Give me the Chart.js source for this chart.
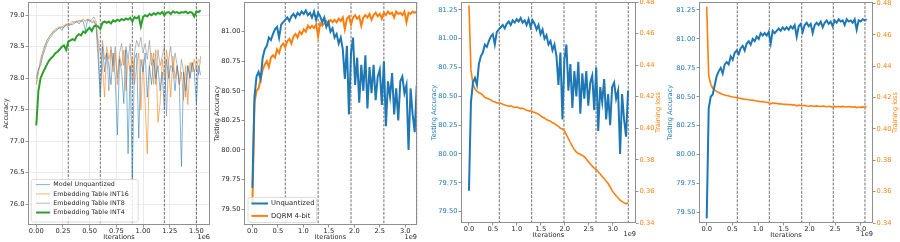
<!DOCTYPE html>
<html>
<head>
<meta charset="utf-8">
<title>Accuracy and training loss curves</title>
<script src="https://cdn.jsdelivr.net/npm/chart.js@4.4.1/dist/chart.umd.min.js"></script>
<style>
  html, body { margin: 0; padding: 0; background: #fff; }
  #figure { position: relative; width: 900px; height: 242px; overflow: hidden; }
  #figure canvas { position: absolute; top: 0; }
</style>
</head>
<body>
<div id="figure">
  <canvas id="p1" width="214" height="242" style="left:0px"></canvas>
  <canvas id="p2" width="208" height="242" style="left:212px"></canvas>
  <canvas id="p3" width="239" height="242" style="left:427px"></canvas>
  <canvas id="p4" width="234" height="242" style="left:666px"></canvas>
</div>
<script>
// ---- panel 1: embedding table quantization (iterations in 1e6) ----
const p1LastIter = 1.54e6;
const p1Labels = ['Model Unquantized', 'Embedding Table INT16', 'Embedding Table INT8', 'Embedding Table INT4'];
const p1Unquantized = [78.0, 78.15, 78.2, 78.35, 78.45, 78.55, 78.62, 78.66, 78.72, 78.74,
  78.78, 78.8, 78.76, 78.82, 78.84, 78.82, 78.86, 78.85, 78.88, 78.9,
  78.86, 78.91, 78.9, 78.75, 78.92, 78.92, 78.88, 78.9, 78.82, 78.3,
  77.7, 78.5, 78.1, 78.4, 78.2, 77.9, 78.4, 78.0, 77.1, 78.3,
  78.1, 77.6, 78.45, 76.8, 78.2, 76.4, 78.3, 78.4, 77.05, 78.3,
  78.1, 78.4, 77.7, 78.2, 77.9, 78.3, 78.0, 78.2, 77.8, 78.1,
  77.5, 78.3, 78.0, 78.2, 78.15, 77.8, 78.2, 77.9, 76.6, 78.1,
  77.8, 78.2, 78.0, 78.25, 78.1, 77.6, 78.2, 78.05];
const p1Int16 = [77.9, 78.1, 78.25, 78.4, 78.5, 78.6, 78.66, 78.7, 78.75, 78.78,
  78.8, 78.82, 78.8, 78.84, 78.86, 78.85, 78.88, 78.9, 78.88, 78.91,
  78.9, 78.92, 78.93, 78.9, 78.94, 78.93, 78.9, 78.92, 78.85, 78.6,
  78.4, 78.2, 77.7, 78.5, 78.3, 78.45, 78.1, 78.4, 77.9, 78.35,
  78.2, 78.45, 77.8, 78.3, 78.1, 78.35, 77.9, 78.2, 78.4, 77.5,
  78.3, 77.6, 76.8, 78.2, 78.4, 77.9, 78.45, 77.3, 77.6, 78.3,
  78.0, 78.45, 78.2, 77.7, 78.35, 78.0, 78.2, 77.9, 78.1, 77.65,
  78.2, 77.58, 78.25, 78.1, 78.3, 78.15, 78.3, 78.25];
const p1Int8 = [77.9, 78.1, 78.3, 78.42, 78.52, 78.6, 78.65, 78.7, 78.74, 78.76,
  78.78, 78.8, 78.82, 78.8, 78.85, 78.86, 78.84, 78.88, 78.9, 78.89,
  78.92, 78.9, 78.93, 78.91, 78.94, 78.9, 78.93, 78.97, 78.9, 78.5,
  77.7, 78.6, 78.3, 78.4, 77.8, 78.5, 78.2, 78.5, 78.0, 78.4,
  78.55, 78.2, 78.5, 78.3, 78.55, 77.9, 78.4, 78.6, 78.5, 78.65,
  78.4, 78.55, 78.3, 78.6, 78.2, 78.4, 77.9, 78.45, 78.2, 78.35,
  78.5, 77.4, 78.3, 78.5, 78.1, 78.4, 78.2, 77.9, 78.3, 78.1,
  77.7, 78.2, 78.0, 78.25, 78.1, 78.2, 78.05, 78.35];
const p1Int4 = [77.25, 77.8, 78.0, 78.08, 78.15, 78.22, 78.28, 78.32, 78.35, 78.4,
  78.42, 78.46, 78.5, 78.52, 78.45, 78.58, 78.6, 78.62, 78.6, 78.67,
  78.7, 78.68, 78.74, 78.72, 78.77, 78.8, 78.75, 78.82, 78.84, 78.82,
  78.78, 78.88, 78.9, 78.88, 78.9, 78.87, 78.92, 78.9, 78.93, 78.91,
  78.94, 78.92, 78.95, 78.93, 78.96, 78.9, 78.97, 78.95, 78.98, 78.82,
  78.97, 79.0, 78.98, 79.02, 79.0, 79.03, 79.01, 79.04, 79.02, 79.05,
  79.0, 79.04, 79.05, 79.02, 79.06, 79.04, 79.05, 79.03, 79.05, 79.04,
  79.06, 79.03, 79.05, 79.04, 78.98, 79.06, 79.05, 79.08];
const p1Epochs = [0.3e6, 0.6e6, 0.9e6, 1.2e6, 1.5e6];
const p1XTicks = [0, 0.25e6, 0.5e6, 0.75e6, 1.0e6, 1.25e6, 1.5e6];
const p1YTicks = [76.0, 76.5, 77.0, 77.5, 78.0, 78.5, 79.0];

// ---- panels 2-4: testing accuracy / training loss (iterations in 1e9) ----
const unquantizedAcc = [79.68, 80.45, 80.62, 80.66, 80.6, 80.78, 80.85, 80.88, 80.95, 80.93,
  80.98, 81.02, 81.04, 80.95, 81.06, 81.08, 81.1, 81.12, 81.09, 81.13,
  81.15, 81.12, 81.16, 81.14, 81.17, 81.15, 81.18, 81.14, 81.16, 81.12,
  81.17, 81.1, 81.16, 81.13, 81.08, 81.12, 81.04, 81.08, 81.0, 81.03,
  80.95, 80.98, 80.9, 80.95, 80.85, 80.6, 80.88, 80.3, 80.82, 80.95,
  80.55, 80.78, 80.4, 80.72, 80.5, 80.8, 80.35, 80.7, 80.48, 80.72,
  80.42, 80.62, 80.68, 80.38, 80.75, 80.2, 80.58, 80.45, 80.65, 80.3,
  80.52, 80.25, 80.58, 80.62, 80.48, 80.55, 80.0, 80.52, 80.3, 80.15,
  80.55];
const dqrmAcc = [79.55, 80.4, 80.5, 80.52, 80.6, 80.68, 80.72, 80.75, 80.7, 80.78,
  80.8, 80.78, 80.85, 80.82, 80.88, 80.9, 80.87, 80.92, 80.94, 80.9,
  80.96, 80.98, 80.95, 81.0, 80.98, 81.02, 81.0, 81.05, 81.03, 81.05,
  81.03, 81.06, 80.96, 81.07, 81.05, 81.07, 81.09, 81.07, 81.1, 81.08,
  81.1, 81.08, 81.11, 81.09, 81.12, 81.02, 81.11, 81.13, 81.06, 81.12,
  81.14, 81.11, 81.13, 81.05, 81.12, 81.14, 81.12, 81.15, 81.1, 81.14,
  81.16, 81.13, 81.15, 81.11, 81.16, 81.14, 81.17, 81.15, 81.16, 81.12,
  81.17, 81.15, 81.16, 81.14, 81.17, 81.08, 81.16, 81.15, 81.17, 81.16,
  81.17];
const dqrmAccRun2 = [79.45].concat(dqrmAcc.slice(1));
const unquantizedLoss = [0.478, 0.437, 0.428, 0.425, 0.4235, 0.4225, 0.422, 0.421, 0.4195, 0.419,
  0.4185, 0.418, 0.417, 0.4168, 0.416, 0.4162, 0.4158, 0.4152, 0.4148, 0.4145,
  0.414, 0.4142, 0.4136, 0.4132, 0.4135, 0.413, 0.4125, 0.4128, 0.412, 0.4115,
  0.411, 0.4112, 0.4105, 0.41, 0.4095, 0.409, 0.408, 0.407, 0.4065, 0.4055,
  0.405, 0.4045, 0.4035, 0.403, 0.402, 0.4012, 0.4, 0.3995, 0.3985, 0.396,
  0.3935, 0.391, 0.3885, 0.3865, 0.385, 0.384, 0.3835, 0.3828, 0.382, 0.3805,
  0.379, 0.3775, 0.376, 0.3748, 0.3738, 0.3725, 0.371, 0.3695, 0.368, 0.3665,
  0.365, 0.3628, 0.3605, 0.3588, 0.3572, 0.3558, 0.3545, 0.3535, 0.3528, 0.3522,
  0.3528];
const dqrmLoss = [0.478, 0.434, 0.4285, 0.426, 0.4248, 0.424, 0.4232, 0.4226, 0.422, 0.4216,
  0.4213, 0.421, 0.4207, 0.4204, 0.4202, 0.42, 0.4197, 0.4195, 0.4192, 0.419,
  0.4188, 0.4186, 0.4183, 0.4185, 0.418, 0.4178, 0.4176, 0.4174, 0.4176, 0.4172,
  0.417, 0.4168, 0.416, 0.4167, 0.4163, 0.4164, 0.416, 0.4161, 0.4158, 0.4157,
  0.4158, 0.4155, 0.4156, 0.4152, 0.4154, 0.4147, 0.4152, 0.415, 0.4148, 0.4151,
  0.4147, 0.4145, 0.4148, 0.4146, 0.4144, 0.4147, 0.4145, 0.4143, 0.4146, 0.4144,
  0.4142, 0.4145, 0.4143, 0.4137, 0.4144, 0.4142, 0.4143, 0.4141, 0.4144, 0.4142,
  0.414, 0.4143, 0.4141, 0.4139, 0.4142, 0.4136, 0.414, 0.4138, 0.4141, 0.4139,
  0.4143];
const p2LastIter = 3.225e9, p3LastIter = 3.32e9, p4LastIter = 3.113e9;
const p2Epochs = [0.645e9, 1.29e9, 1.935e9, 2.58e9, 3.225e9];
const p3Epochs = [0.633e9, 1.309e9, 1.983e9, 2.651e9, 3.325e9];
const p4Epochs = [0.595e9, 1.218e9, 1.849e9, 2.463e9, 3.08e9];
const iterTicks = [0, 0.5e9, 1.0e9, 1.5e9, 2.0e9, 2.5e9, 3.0e9];
const accTicksP2 = [79.5, 79.75, 80.0, 80.25, 80.5, 80.75, 81.0];
const accTicks = [79.5, 79.75, 80.0, 80.25, 80.5, 80.75, 81.0, 81.25];
const lossTicks = [0.34, 0.36, 0.38, 0.40, 0.42, 0.44, 0.46, 0.48];

// ---- helpers ----
const BLUE = '#1f77b4', ORANGE = '#ff7f0e', GREEN = '#2ca02c', TEXT = '#262626';
const FONT = '"DejaVu Sans", sans-serif';
Chart.defaults.font.family = FONT;

// evaluations are evenly spaced between 0 and the last iteration
function series(values, lastIter) {
  return values.map((v, i) => ({ x: i * lastIter / (values.length - 1), y: v }));
}

function vText(ctx, text, x, y, color) {
  ctx.save();
  ctx.translate(x, y);
  ctx.rotate(-Math.PI / 2);
  ctx.fillStyle = color;
  ctx.textAlign = 'center';
  ctx.textBaseline = 'middle';
  ctx.fillText(text, 0, 0);
  ctx.restore();
}

function drawLegend(ctx, chart, L) {
  const a = chart.chartArea;
  const bx = a.left + L.dx, by = a.bottom - L.dy - L.h;
  ctx.save();
  ctx.beginPath();
  ctx.roundRect(bx + 0.5, by + 0.5, L.w, L.h, 2);
  ctx.globalAlpha = 0.8;
  ctx.fillStyle = '#fff';
  ctx.fill();
  ctx.globalAlpha = 1;
  ctx.strokeStyle = '#d4d4d4';
  ctx.lineWidth = 0.8;
  ctx.stroke();
  ctx.font = L.font + 'px ' + FONT;
  ctx.letterSpacing = '0.05px';   // keeps the glyphs from being fused at this tiny size
  ctx.textAlign = 'left';
  ctx.textBaseline = 'middle';
  chart.data.datasets.forEach((ds, i) => {
    const y = by + L.first + i * L.gap;
    ctx.strokeStyle = ds.borderColor;
    ctx.lineWidth = ds.borderWidth;
    ctx.beginPath();
    ctx.moveTo(bx + L.line[0], y);
    ctx.lineTo(bx + L.line[1], y);
    ctx.stroke();
    ctx.fillStyle = TEXT;
    ctx.fillText(ds.label, bx + L.textX, y);
  });
  ctx.restore();
}

// epoch markers, frame, axis titles, offset text and legend
const decor = {
  id: 'decor',
  beforeDatasetsDraw(chart, args, o) {
    const { ctx, chartArea: a } = chart;
    const x = chart.scales.x;
    ctx.save();
    ctx.strokeStyle = 'rgba(40,40,40,0.75)';
    ctx.lineWidth = 0.9;
    ctx.setLineDash([2.8, 1.4]);
    o.vlines.forEach(v => {
      const px = x.getPixelForValue(v);
      ctx.beginPath();
      ctx.moveTo(px, a.top);
      ctx.lineTo(px, a.bottom);
      ctx.stroke();
    });
    ctx.restore();
  },
  afterDatasetsDraw(chart, args, o) {
    const { ctx, chartArea: a } = chart;
    ctx.save();
    ctx.strokeStyle = '#8f8f8f';
    ctx.lineWidth = 1;
    ctx.strokeRect(Math.round(a.left) + 0.5, Math.round(a.top) + 0.5,
      Math.round(a.right - a.left) - 1, Math.round(a.bottom - a.top) - 1);
    ctx.font = '6.6px ' + FONT;
    ctx.fillStyle = TEXT;
    ctx.textBaseline = 'middle';
    ctx.textAlign = 'center';
    ctx.fillText('Iterations', (a.left + a.right) / 2, a.bottom + o.xTitleGap);
    ctx.textAlign = 'right';
    ctx.fillText(o.offset, a.right, a.bottom + o.xTitleGap - 0.6);
    const midY = (a.top + a.bottom) / 2;
    vText(ctx, o.left.text, a.left - o.left.gap, midY, o.left.color);
    if (o.right) vText(ctx, o.right.text, a.right + o.right.gap, midY, o.right.color);
    ctx.restore();
    if (o.legend) drawLegend(ctx, chart, o.legend);
  }
};

function xAxis(min, max, tickValues, unit, digits, grid, height) {
  return {
    type: 'linear', min, max,
    afterBuildTicks: s => { s.ticks = tickValues.map(v => ({ value: v })); },
    afterFit: s => { s.height = height; s.paddingLeft = 0; s.paddingRight = 0; },
    ticks: {
      autoSkip: false, maxRotation: 0, padding: 0, color: TEXT, font: { size: 6.7 },
      callback: v => (v / unit).toFixed(digits)
    },
    grid: { drawOnChartArea: grid, color: '#e4e4e4', lineWidth: 0.8, tickLength: 2.5, tickColor: '#777' },
    border: { display: false }
  };
}

function yAxis(position, min, max, tickValues, digits, color, grid, width) {
  return {
    type: 'linear', position, min, max,
    afterBuildTicks: s => { s.ticks = tickValues.map(v => ({ value: v })); },
    afterFit: s => { s.width = width; s.paddingTop = 0; s.paddingBottom = 0; },
    ticks: {
      autoSkip: false, padding: 1, color, font: { size: 6.7 },
      callback: v => v.toFixed(digits)
    },
    grid: { drawOnChartArea: grid, color: '#e4e4e4', lineWidth: 0.8, tickLength: 2.5, tickColor: '#777' },
    border: { display: false }
  };
}

function line(label, values, lastIter, color, width, axis) {
  return {
    label, data: series(values, lastIter), yAxisID: axis || 'y',
    borderColor: color, borderWidth: width, pointRadius: 0, tension: 0, fill: false
  };
}

const baseOptions = (padRight) => ({
  responsive: false, animation: false, devicePixelRatio: 1,
  layout: { padding: { top: 2, right: padRight, left: 0, bottom: 0 } },
  plugins: { legend: { display: false }, tooltip: { enabled: false } }
});

// ---- panel 1 ----
const o1 = baseOptions(4);
o1.scales = {
  x: xAxis(-0.0775e6, 1.6275e6, p1XTicks, 1e6, 2, true, 17),
  y: yAxis('left', 75.67, 79.21, p1YTicks, 1, TEXT, true, 28)
};
o1.plugins.decor = {
  vlines: p1Epochs, xTitleGap: 12.5, offset: '1e6',
  left: { text: 'Accuracy', gap: 22, color: TEXT },
  legend: { dx: 2.7, dy: 3.5, w: 107, h: 42.5, first: 5.6, gap: 9.3, line: [5.3, 19.3], textX: 22.6, font: 6.3 }
};
new Chart(document.getElementById('p1'), {
  type: 'line',
  data: { datasets: [
    line(p1Labels[0], p1Unquantized, p1LastIter, 'rgba(31,119,180,0.55)', 1),
    line(p1Labels[1], p1Int16, p1LastIter, 'rgba(255,127,14,0.6)', 1),
    line(p1Labels[2], p1Int8, p1LastIter, 'rgba(127,127,127,0.55)', 1),
    line(p1Labels[3], p1Int4, p1LastIter, GREEN, 2)
  ] },
  options: o1,
  plugins: [decor]
});

// ---- panel 2 ----
const o2 = baseOptions(3);
o2.scales = {
  x: xAxis(-0.165e9, 3.23e9, iterTicks, 1e9, 1, false, 17),
  y: yAxis('left', 79.365, 81.251, accTicksP2, 2, TEXT, false, 32)
};
o2.plugins.decor = {
  vlines: p2Epochs, xTitleGap: 12.5, offset: '1e9',
  left: { text: 'Testing Accuracy', gap: 27, color: TEXT },
  legend: { dx: 3.5, dy: 3, w: 68.5, h: 25, first: 6.5, gap: 12.4, line: [4, 20.5], textX: 23.5, font: 6.8 }
};
new Chart(document.getElementById('p2'), {
  type: 'line',
  data: { datasets: [
    line('Unquantized', unquantizedAcc, p2LastIter, BLUE, 2),
    line('DQRM 4-bit', dqrmAcc, p2LastIter, ORANGE, 2)
  ] },
  options: o2,
  plugins: [decor]
});

// ---- panel 3 ----
const o3 = baseOptions(0);
o3.scales = {
  x: xAxis(-0.166e9, 3.486e9, iterTicks, 1e9, 1, false, 19),
  y: yAxis('left', 79.401, 81.319, accTicks, 2, BLUE, false, 34),
  y2: yAxis('right', 0.34, 0.48, lossTicks, 2, ORANGE, false, 30)
};
o3.plugins.decor = {
  vlines: p3Epochs, xTitleGap: 12.3, offset: '1e9',
  left: { text: 'Testing Accuracy', gap: 27, color: BLUE },
  right: { text: 'Training loss', gap: 22.7, color: ORANGE }
};
new Chart(document.getElementById('p3'), {
  type: 'line',
  data: { datasets: [
    line('Testing Accuracy', unquantizedAcc, p3LastIter, BLUE, 2),
    line('Training loss', unquantizedLoss, p3LastIter, ORANGE, 1.6, 'y2')
  ] },
  options: o3,
  plugins: [decor]
});

// ---- panel 4 ----
const o4 = baseOptions(0);
o4.scales = {
  x: xAxis(-0.15e9, 3.236e9, iterTicks, 1e9, 1, false, 19),
  y: yAxis('left', 79.41, 81.319, accTicks, 2, BLUE, false, 33),
  y2: yAxis('right', 0.34, 0.481, lossTicks, 2, ORANGE, false, 27)
};
o4.plugins.decor = {
  vlines: p4Epochs, xTitleGap: 12.3, offset: '1e9',
  left: { text: 'Testing Accuracy', gap: 28.3, color: BLUE },
  right: { text: 'Training loss', gap: 22, color: ORANGE }
};
new Chart(document.getElementById('p4'), {
  type: 'line',
  data: { datasets: [
    line('Testing Accuracy', dqrmAccRun2, p4LastIter, BLUE, 2),
    line('Training loss', dqrmLoss, p4LastIter, ORANGE, 1.6, 'y2')
  ] },
  options: o4,
  plugins: [decor]
});
</script>
</body>
</html>
